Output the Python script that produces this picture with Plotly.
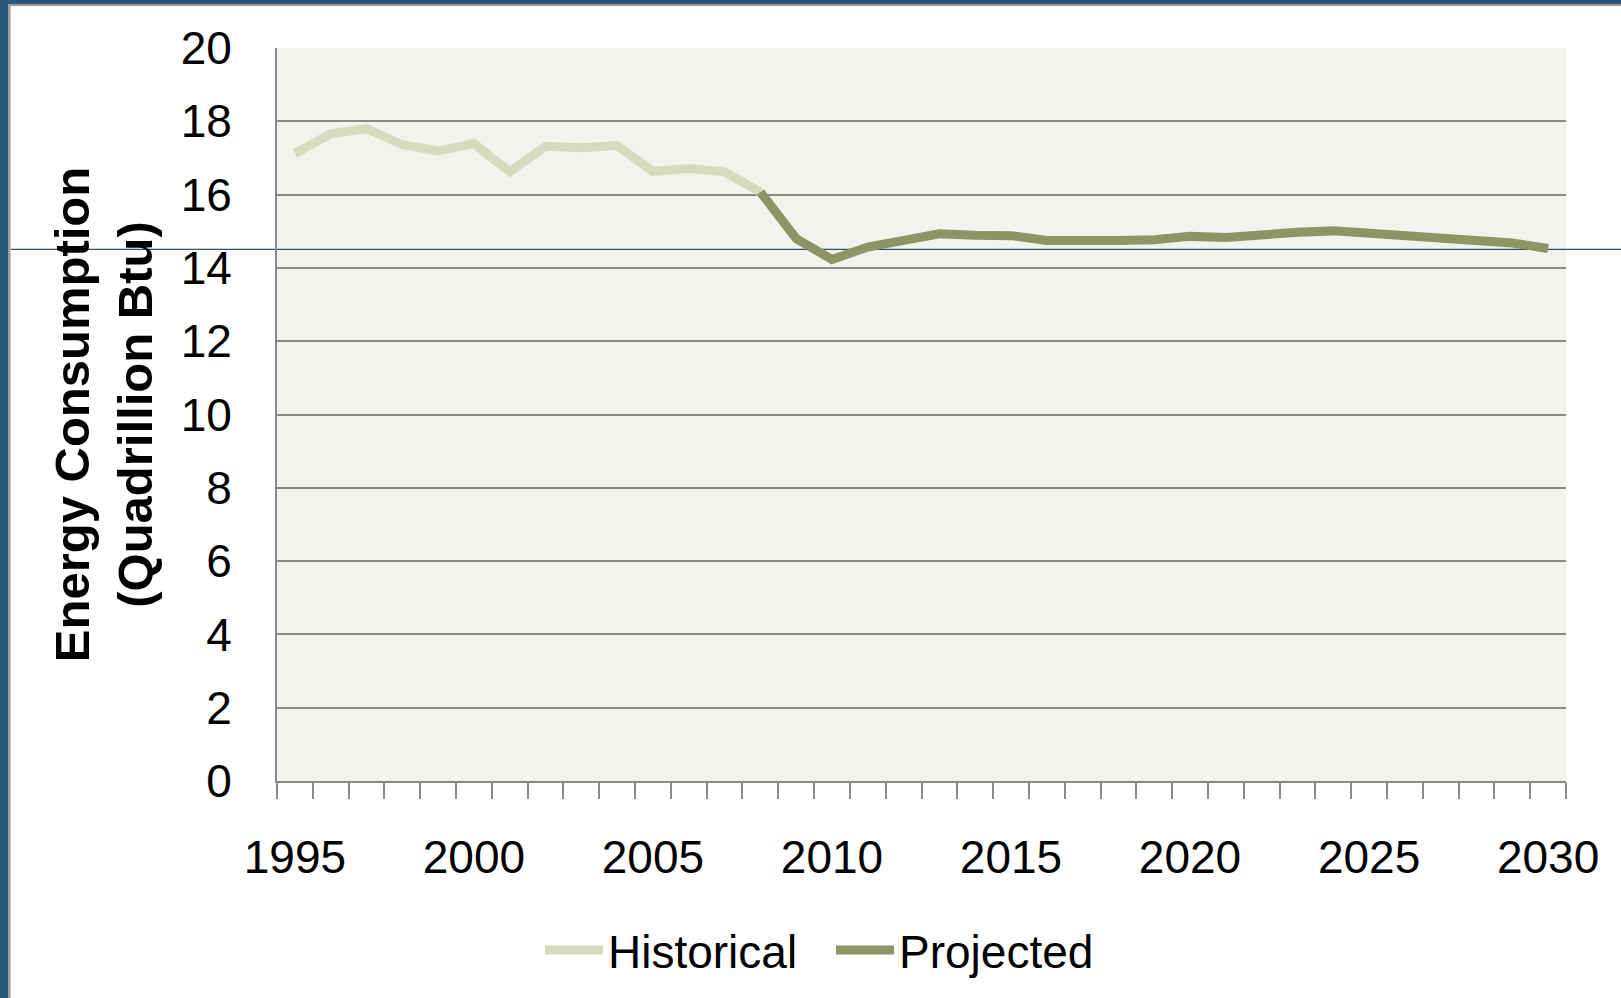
import plotly.graph_objects as go

# ---- data ----
hist_years = list(range(1995, 2009))
hist_values = [17.12, 17.66, 17.80, 17.36, 17.19, 17.39, 16.62, 17.32, 17.28, 17.34,
               16.63, 16.71, 16.62, 16.07]
proj_years = list(range(2008, 2031))
proj_values = [16.07, 14.80, 14.23, 14.57, 14.75, 14.93, 14.89, 14.88, 14.75, 14.73,
               14.75, 14.77, 14.86, 14.83, 14.93, 14.97, 15.01, 14.95, 14.88, 14.83,
               14.75, 14.68, 14.53]
x_tick_labels = [1995, 2000, 2005, 2010, 2015, 2020, 2025, 2030]
y_ticks = list(range(0, 21, 2))

# ---- layout geometry (pixels) ----
W, H = 1621, 998
PL, PR, PT, PB = 277, 1566, 48, 781
PW, PH = PR - PL, PB - PT

def xp(px):
    return (px - PL) / PW

def yp(py):
    return (PB - py) / PH

FONT = "Liberation Sans, Arial, sans-serif"
GRID = "#8a8a8a"
SLIDE_BLUE = "#2b5877"

fig = go.Figure()
fig.add_trace(go.Scatter(
    x=hist_years, y=hist_values, mode="lines", name="Historical",
    line=dict(color="#d6dbc0", width=9),
))
fig.add_trace(go.Scatter(
    x=proj_years, y=proj_values, mode="lines", name="Projected",
    line=dict(color="#8e9464", width=9),
))

minor_vals = [y - 0.5 for y in hist_years + proj_years[1:]] + [proj_years[-1] + 0.5]

fig.update_layout(
    width=W, height=H,
    margin=dict(l=PL, r=W - PR, t=PT, b=H - PB, pad=0),
    paper_bgcolor="white",
    plot_bgcolor="#f2f3ec",
    font=dict(family=FONT, size=46, color="black"),
    showlegend=True,
    legend=dict(
        orientation="h", x=xp(831), xanchor="center", y=yp(950), yanchor="middle",
        font=dict(family=FONT, size=46, color="black"),
        bgcolor="rgba(0,0,0,0)", itemwidth=58, entrywidth=218, tracegroupgap=0,
    ),
    xaxis=dict(
        range=[hist_years[0] - 0.5, proj_years[-1] + 0.5],
        tickmode="array", tickvals=x_tick_labels,
        ticktext=[str(v) for v in x_tick_labels],
        ticks="", ticklabelstandoff=35,
        showgrid=False, zeroline=False,
        showline=True, linecolor=GRID, linewidth=2,
        tickfont=dict(family=FONT, size=46, color="black"),
        minor=dict(tickmode="array", tickvals=minor_vals, ticks="outside",
                   ticklen=16, tickwidth=2, tickcolor=GRID, showgrid=False),
    ),
    yaxis=dict(
        range=[0, 20], tickmode="array", tickvals=y_ticks,
        ticks="", ticklabelstandoff=34,
        showgrid=True, gridcolor=GRID, gridwidth=2,
        zeroline=False,
        showline=True, linecolor=GRID, linewidth=2,
        tickfont=dict(family=FONT, size=46, color="black"),
        title=dict(text="<b>Energy Consumption<br>(Quadrillion Btu)</b>",
                   font=dict(family=FONT, size=49, color="black"), standoff=12),
    ),
)

# slide frame: blue strips on the left and top, with a gray edge
shapes = [
    dict(type="rect", xref="paper", yref="paper", x0=xp(-20), x1=xp(8.5), y0=yp(-20), y1=yp(1020),
         fillcolor=SLIDE_BLUE, line=dict(width=0), layer="above"),
    dict(type="rect", xref="paper", yref="paper", x0=xp(-20), x1=xp(1640), y0=yp(-20), y1=yp(4),
         fillcolor=SLIDE_BLUE, line=dict(width=0), layer="above"),
    dict(type="line", xref="paper", yref="paper", x0=xp(9.5), x1=xp(9.5), y0=yp(5), y1=yp(1020),
         line=dict(color="#9a9a9a", width=2), layer="above"),
    dict(type="line", xref="paper", yref="paper", x0=xp(8.5), x1=xp(1640), y0=yp(5), y1=yp(5),
         line=dict(color="#9a9a9a", width=2), layer="above"),
    dict(type="line", xref="paper", yref="paper", x0=xp(11), x1=xp(1640), y0=yp(249.3), y1=yp(249.3),
         line=dict(color="#2b4f6e", width=1.3), layer="below"),
]
fig.update_layout(shapes=shapes)

fig.write_html(
    "out.html",
    config={"displayModeBar": False},
    post_script="document.body.style.margin='0';document.body.style.overflow='hidden';",
)
